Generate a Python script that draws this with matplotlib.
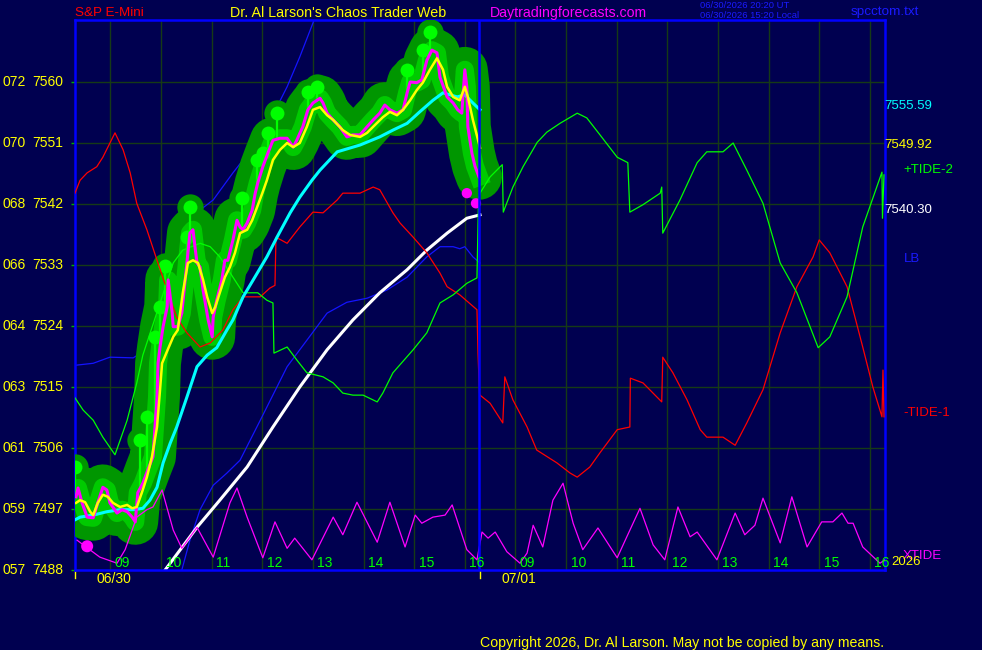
import matplotlib.pyplot as plt
import numpy as np

plt.rcParams["font.family"] = ["Liberation Sans", "DejaVu Sans"]

# second session (07/01) is drawn right after the first one, 8 hours later on the axis
DAY2 = 8.0

# 06/30 price (magenta) , times in hours
price_t = [8.32, 8.36, 8.44, 8.54, 8.66, 8.75, 8.85, 8.93, 8.99, 9.13, 9.23, 9.33, 9.43, 9.49,
           9.54, 9.64, 9.74, 9.84, 9.92, 9.94, 9.98, 10.04, 10.12, 10.14, 10.22, 10.24, 10.33,
           10.41, 10.51, 10.57, 10.63, 10.67, 10.71, 10.77, 10.83, 10.93, 11.01, 11.03, 11.10,
           11.20, 11.26, 11.32, 11.42, 11.50, 11.56, 11.62, 11.70, 11.80, 11.86, 11.91, 12.01,
           12.11, 12.21, 12.35, 12.49, 12.61, 12.68, 12.80, 12.90, 13.00, 13.14, 13.20, 13.28,
           13.40, 13.53, 13.67, 13.79, 13.93, 14.07, 14.19, 14.32, 14.42, 14.52, 14.66, 14.78,
           14.86, 14.92, 15.05, 15.15, 15.25, 15.35, 15.45, 15.51, 15.65, 15.77, 15.86, 15.94,
           16.00, 16.04, 16.06, 16.14, 16.20, 16.28]
price_v = [7498.8, 7500.1, 7497.9, 7495.8, 7495.7, 7497.9, 7500.2, 7499.8, 7497.9, 7496.4,
           7496.9, 7496.6, 7495.8, 7495.1, 7499.4, 7500.8, 7502.8, 7504.7, 7513.5, 7518.5,
           7520.9, 7523.9, 7526.8, 7530.8, 7525.9, 7523.9, 7523.9, 7525.9, 7533.3, 7537.7,
           7538.2, 7535.7, 7533.3, 7532.7, 7529.3, 7524.9, 7522.4, 7525.3, 7527.8, 7530.8,
           7533.7, 7533.7, 7536.7, 7539.6, 7538.6, 7538.2, 7539.2, 7541.1, 7543.6, 7545.1,
           7547.5, 7549.5, 7551.4, 7551.7, 7551.7, 7550.4, 7551.4, 7553.4, 7555.9, 7556.9,
           7557.6, 7556.9, 7555.4, 7554.4, 7553.4, 7551.9, 7552.2, 7552.2, 7553.4, 7554.4,
           7555.4, 7556.6, 7555.9, 7555.4, 7555.9, 7558.4, 7560.0, 7559.9, 7560.3, 7563.2,
           7564.7, 7564.3, 7560.7, 7557.8, 7556.9, 7555.9, 7555.4, 7561.8, 7559.3, 7553.4,
           7549.5, 7547.6, 7546.0]

# bar highs marked with light green dots
hi_t = [8.30, 9.58, 9.72, 9.88, 9.98, 10.08, 10.51, 10.57, 11.59, 11.89, 12.01, 12.11,
        12.29, 12.90, 13.08, 14.86, 15.17, 15.31]
hi_v = [7503.2, 7507.2, 7510.6, 7522.4, 7526.8, 7532.9, 7537.1, 7541.6, 7542.9, 7548.5,
        7549.5, 7552.5, 7555.4, 7558.5, 7559.3, 7561.8, 7564.7, 7567.4]

# fast average (yellow)
yel_t = [8.32, 8.40, 8.50, 8.60, 8.66, 8.75, 8.85, 8.95, 9.05, 9.19, 9.33, 9.43, 9.52, 9.62,
         9.72, 9.82, 9.92, 9.98, 10.02, 10.12, 10.24, 10.33, 10.43, 10.53, 10.63, 10.73,
         10.83, 10.91, 11.01, 11.07, 11.16, 11.26, 11.36, 11.46, 11.56, 11.70, 11.80, 11.90,
         12.00, 12.09, 12.21, 12.35, 12.49, 12.61, 12.74, 12.88, 13.00, 13.14, 13.28, 13.40,
         13.59, 13.73, 13.93, 14.07, 14.19, 14.38, 14.52, 14.66, 14.78, 14.92, 15.05, 15.17,
         15.31, 15.45, 15.57, 15.65, 15.77, 15.90, 16.00, 16.06, 16.16, 16.30]
yel_v = [7497.9, 7498.3, 7498.0, 7496.6, 7496.1, 7497.9, 7499.1, 7498.8, 7497.9, 7497.3,
         7497.6, 7497.1, 7497.3, 7499.4, 7501.7, 7504.7, 7509.1, 7514.6, 7518.5, 7520.3,
         7522.4, 7523.4, 7528.9, 7533.3, 7533.7, 7533.3, 7530.8, 7528.3, 7525.9, 7526.8,
         7528.9, 7531.2, 7532.7, 7534.8, 7537.7, 7538.2, 7539.6, 7541.6, 7543.6, 7545.5,
         7548.5, 7550.0, 7551.0, 7550.4, 7551.0, 7553.4, 7555.9, 7556.3, 7555.1, 7554.4,
         7552.9, 7552.2, 7551.9, 7552.5, 7553.4, 7554.8, 7555.6, 7555.1, 7555.9, 7557.3,
         7558.8, 7559.9, 7561.8, 7563.5, 7561.8, 7559.3, 7557.8, 7557.3, 7559.3, 7557.8,
         7554.4, 7550.3]

# slow average (cyan)
cy_t = [8.30, 8.40, 8.66, 8.93, 9.19, 9.45, 9.64, 9.78, 9.92, 10.04, 10.18, 10.31, 10.51,
        10.71, 10.91, 11.10, 11.30, 11.42, 11.62, 11.82, 12.09, 12.29, 12.55, 12.74, 12.98,
        13.14, 13.48, 13.93, 14.32, 14.58, 14.86, 15.11, 15.37, 15.57, 15.85, 16.00, 16.16,
        16.30]
cy_v = [7495.4, 7495.8, 7496.1, 7496.6, 7496.9, 7496.9, 7497.1, 7498.3, 7500.2, 7503.8,
        7506.7, 7509.1, 7513.5, 7518.0, 7519.7, 7520.8, 7523.4, 7524.9, 7528.3, 7530.8,
        7534.2, 7537.1, 7540.7, 7543.0, 7545.5, 7547.0, 7549.7, 7550.7, 7551.9, 7552.9,
        7553.9, 7555.6, 7557.3, 7558.4, 7557.8, 7558.1, 7556.9, 7555.9]

# long average (white)
wh_t = [10.08, 10.71, 11.16, 11.70, 12.21, 12.74, 13.28, 13.79, 14.32, 14.86, 15.25, 15.65,
        16.04, 16.30]
wh_v = [7488.0, 7494.3, 7498.3, 7503.2, 7509.1, 7515.0, 7520.5, 7524.9, 7528.9, 7532.3,
        7535.2, 7537.7, 7539.9, 7540.4]

# blue bands
ub_t = [8.30, 8.66, 8.99, 9.45, 9.64, 9.90, 10.18, 10.47, 10.77, 11.03, 11.42, 11.82, 12.09,
        12.49, 12.74, 13.00, 13.08]
ub_v = [7518.2, 7518.5, 7519.4, 7519.3, 7520.2, 7526.0, 7532.3, 7538.2, 7541.1, 7542.6,
        7546.6, 7550.4, 7553.4, 7559.3, 7563.7, 7568.7, 7570.5]
lb_t = [10.41, 10.57, 10.77, 11.03, 11.30, 11.56, 11.96, 12.49, 12.88, 13.28, 13.67, 14.07,
        14.46, 14.86, 15.25, 15.51, 15.77, 15.90, 16.00, 16.16, 16.30]
lb_v = [7488.0, 7492.4, 7496.9, 7500.5, 7502.3, 7504.2, 7510.1, 7518.0, 7521.9, 7525.9,
        7527.5, 7528.1, 7529.3, 7531.2, 7534.2, 7535.7, 7535.7, 7535.4, 7535.7, 7534.2,
        7533.3]

# -TIDE-1 (red), 06/30 then 07/01
r1_t = [8.30, 8.40, 8.54, 8.73, 8.85, 9.09, 9.25, 9.39, 9.52, 9.72, 9.92, 10.12, 10.31, 10.51,
        10.77, 10.97, 11.22, 11.42, 11.62, 11.96, 12.15, 12.25, 12.27, 12.49, 12.74, 13.00,
        13.20, 13.48, 13.59, 13.93, 14.19, 14.32, 14.58, 14.72, 14.98, 15.25, 15.51, 15.65,
        15.90, 16.24, 16.26, 16.29]
r1_v = [7543.6, 7545.5, 7546.6, 7547.5, 7548.9, 7552.5, 7550.0, 7546.6, 7542.1, 7538.2,
        7533.7, 7529.3, 7525.3, 7523.0, 7520.9, 7521.5, 7523.4, 7526.4, 7528.3, 7528.3,
        7529.6, 7530.0, 7537.1, 7536.2, 7538.6, 7540.8, 7540.7, 7542.6, 7543.6, 7543.6,
        7544.5, 7544.1, 7540.7, 7539.2, 7537.1, 7534.8, 7531.8, 7529.8, 7528.6, 7526.4,
        7520.0, 7514.1]
r2_t = [8.30, 8.50, 8.75, 8.79, 8.95, 9.23, 9.42, 9.82, 10.08, 10.22, 10.47, 10.67, 11.01,
        11.26, 11.27, 11.52, 11.89, 11.91, 12.11, 12.39, 12.65, 12.78, 13.10, 13.34, 13.57,
        13.89, 14.23, 14.56, 14.88, 15.00, 15.21, 15.55, 15.86, 16.06, 16.24, 16.26, 16.28]
r2_v = [7513.8, 7512.6, 7509.7, 7516.5, 7513.1, 7509.1, 7505.7, 7503.8, 7502.3, 7501.7,
        7503.2, 7505.3, 7508.7, 7509.1, 7516.3, 7515.6, 7512.8, 7519.4, 7517.1, 7513.1,
        7508.7, 7507.6, 7507.6, 7506.4, 7509.7, 7514.6, 7523.0, 7529.8, 7534.2, 7536.7,
        7534.8, 7529.8, 7520.9, 7515.0, 7510.6, 7517.5, 7510.6]

# +TIDE-2 (green)
g1_t = [8.30, 8.46, 8.66, 8.85, 9.09, 9.33, 9.52, 9.64, 9.98, 10.24, 10.43, 10.77, 10.97,
        11.16, 11.42, 11.62, 11.91, 12.09, 12.21, 12.23, 12.49, 12.68, 12.88, 13.20, 13.40,
        13.59, 13.79, 13.99, 14.27, 14.38, 14.58, 14.98, 15.25, 15.51, 15.77, 16.04, 16.24,
        16.27]
g1_v = [7513.4, 7511.6, 7510.1, 7507.6, 7505.0, 7510.1, 7515.6, 7519.7, 7527.4, 7533.3,
        7535.2, 7536.2, 7535.7, 7534.2, 7531.2, 7528.9, 7528.9, 7527.8, 7527.4, 7520.0,
        7520.9, 7519.0, 7517.1, 7516.5, 7515.6, 7514.1, 7513.8, 7513.8, 7512.8, 7514.1,
        7517.1, 7520.5, 7523.0, 7527.4, 7528.6, 7530.3, 7531.1, 7542.6]
g2_t = [8.30, 8.50, 8.74, 8.76, 8.95, 9.15, 9.43, 9.62, 9.88, 10.22, 10.41, 10.67, 11.01,
        11.22, 11.26, 11.52, 11.86, 11.89, 11.91, 12.25, 12.59, 12.78, 13.10, 13.30, 13.57,
        13.89, 14.23, 14.56, 14.98, 15.21, 15.55, 15.86, 16.24, 16.25, 16.28]
g2_v = [7543.6, 7546.0, 7547.8, 7540.8, 7544.5, 7547.5, 7551.1, 7552.6, 7553.9, 7555.4,
        7554.7, 7552.2, 7548.9, 7548.1, 7540.8, 7541.9, 7543.6, 7544.5, 7537.7, 7542.6,
        7548.1, 7549.7, 7549.7, 7551.0, 7547.0, 7542.1, 7533.3, 7528.9, 7520.8, 7522.4,
        7528.3, 7538.6, 7546.7, 7539.9, 7546.3]

# XTIDE (magenta, bottom)
x1_t = [8.34, 8.79, 9.13, 9.29, 9.52, 9.72, 9.84, 10.02, 10.24, 10.41, 10.71, 11.03, 11.36,
        11.50, 11.70, 12.01, 12.25, 12.49, 12.64, 12.98, 13.40, 13.59, 13.87, 14.27, 14.52,
        14.82, 15.02, 15.15, 15.37, 15.61, 15.75, 16.04, 16.24]
x1_v = [7492.4, 7489.9, 7489.0, 7491.0, 7495.8, 7496.9, 7497.3, 7499.8, 7493.9, 7491.2,
        7494.3, 7489.9, 7497.9, 7500.1, 7495.8, 7489.8, 7495.1, 7491.2, 7492.7, 7489.5,
        7495.8, 7493.2, 7498.0, 7492.1, 7498.0, 7491.4, 7496.1, 7494.9, 7495.8, 7496.1,
        7497.6, 7491.0, 7489.5]
x2_t = [8.34, 8.46, 8.60, 8.83, 9.09, 9.23, 9.35, 9.54, 9.74, 9.94, 10.14, 10.33, 10.63,
        11.01, 11.20, 11.46, 11.72, 11.95, 12.21, 12.45, 12.59, 12.98, 13.34, 13.53, 13.73,
        13.89, 14.23, 14.46, 14.76, 15.05, 15.27, 15.45, 15.57, 15.67, 15.86, 16.20, 16.30]
x2_v = [7493.6, 7492.7, 7493.6, 7490.7, 7489.0, 7490.5, 7494.6, 7491.4, 7498.3, 7500.8,
        7494.9, 7491.0, 7494.2, 7489.8, 7492.9, 7497.1, 7491.7, 7489.5, 7497.3, 7492.9,
        7493.6, 7489.5, 7496.4, 7493.2, 7494.6, 7498.6, 7492.0, 7498.8, 7491.4, 7495.1,
        7495.1, 7496.4, 7494.9, 7494.9, 7491.4, 7489.0, 7489.5]

# magenta dots
dot_t = [8.54, 16.04, 16.22]
dot_v = [7491.5, 7543.6, 7542.1]

levels = [7488, 7497, 7506, 7515, 7524, 7533, 7542, 7551, 7560]
codes = ["057", "059", "061", "063", "064", "066", "068", "070", "072"]
hours = [9, 10, 11, 12, 13, 14, 15, 16]

BG = "#000050"
GRID = "#163a16"
BLUE = "#0000ff"
DKGREEN = "#009600"
LTGREEN = "#00ff00"
NOW = 16.29

W, H = 982, 650


def fxy(x, y):
    # pixel position -> figure fraction
    return x / W, 1 - y / H


fig = plt.figure(figsize=(W / 100, H / 100), dpi=100, facecolor=BG)
ax = fig.add_axes([75 / W, 80 / H, 810 / W, 550 / H], facecolor=BG)
ax.set_xlim(8.3, 24.3)
ax.set_ylim(7488, 7488 + 550 * 9 / 61)

grid_x = hours + [h + DAY2 for h in hours]
ax.set_xticks(grid_x)
ax.set_yticks(levels)
ax.grid(True, color=GRID, lw=1.0)
ax.set_axisbelow(True)
ax.tick_params(labelbottom=False, labelleft=False, bottom=False, left=True,
               length=3, width=1, color="#00b000")
for s in ax.spines.values():
    s.set_color(BLUE)
    s.set_linewidth(1.8)

# bands
ax.plot(ub_t, ub_v, color="#1414ff", lw=0.9, zorder=2)
ax.plot(lb_t, lb_v, color="#1414ff", lw=0.9, zorder=2)
ax.plot(wh_t, wh_v, color="white", lw=2.2, zorder=2.5)

# price blobs
ax.plot(price_t, price_v, color=DKGREEN, lw=33, solid_joinstyle="round",
        solid_capstyle="round", zorder=3)
ax.scatter(hi_t, hi_v, s=360, c=DKGREEN, lw=0, zorder=3)
ax.plot(price_t, price_v, color=LTGREEN, lw=13, alpha=0.5, zorder=4,
        solid_joinstyle="round")
ax.vlines(hi_t, np.interp(hi_t, price_t, price_v), hi_v, color=LTGREEN, lw=1.6, zorder=4)
ax.scatter(hi_t, hi_v, s=100, c=LTGREEN, lw=0, zorder=4)

# tides
ax.plot(r1_t + [t + DAY2 for t in r2_t], r1_v + r2_v, color="#ff0000", lw=0.9, zorder=5)
ax.plot(g1_t + [t + DAY2 for t in g2_t], g1_v + g2_v, color=LTGREEN, lw=0.9, zorder=5)
ax.plot(x1_t + [t + DAY2 for t in x2_t], x1_v + x2_v, color="#ff00ff", lw=0.9, zorder=5)

ax.plot(cy_t, cy_v, color="#00ffff", lw=2.2, zorder=6)
ax.plot(price_t, price_v, color="#ff00ff", lw=2.2, zorder=7)
ax.plot(yel_t, yel_v, color="#ffff00", lw=1.8, zorder=8)
ax.scatter(dot_t, dot_v, s=[75, 55, 55], c="#ff00ff", lw=0, zorder=9)

ax.axvline(NOW, color=BLUE, lw=1.8, zorder=9)

# hour labels inside bottom of plot
for g in grid_x:
    ax.text(g + 0.09, 7489.0, f"{int(g - DAY2) if g > NOW else int(g):02d}", color=LTGREEN,
            fontsize=10, va="center", ha="left", zorder=10)

xt = ax.get_xaxis_transform()
ax.text(9.07, -0.016, "06/30", transform=xt, color="#ffff00", fontsize=10,
        ha="center", va="center")
ax.text(17.07, -0.016, "07/01", transform=xt, color="#ffff00", fontsize=10,
        ha="center", va="center")
for x0 in [8.3, 16.3]:
    ax.plot([x0, x0], [0, -0.014], transform=xt, color="#ffff00", lw=1, clip_on=False)

# left price labels
yt = ax.get_yaxis_transform()
for lv, cd in zip(levels, codes):
    ax.text(-0.090, lv, cd, transform=yt, color="#ffff00", fontsize=10, ha="left", va="center")
    ax.text(-0.0145, lv, str(lv), transform=yt, color="#ffff00", fontsize=10,
            ha="right", va="center")

# header
fig.text(*fxy(75, 13), "S&P E-Mini", color="#ff0000", fontsize=9.7, va="center")
fig.text(*fxy(230, 13), "Dr. Al Larson's Chaos Trader Web", color="#ffff00",
         fontsize=10.3, va="center")
fig.text(*fxy(490, 13), "Daytradingforecasts.com", color="#ff00ff", fontsize=10.2, va="center")
fig.text(*fxy(700, 5), "06/30/2026 20:20 UT", color="#1a1aff", fontsize=6.8, va="center")
fig.text(*fxy(700, 15), "06/30/2026 15:20 Local", color="#1a1aff", fontsize=6.8, va="center")
fig.text(*fxy(851, 12), "spcctom.txt", color="#1a1aff", fontsize=9.7, va="center")

# right side labels
fig.text(*fxy(884, 106), "7555.59", color="#00ffff", fontsize=9.5, va="center")
fig.text(*fxy(884, 145), "7549.92", color="#ffff00", fontsize=9.5, va="center")
fig.text(*fxy(903, 170), "+TIDE-2", color=LTGREEN, fontsize=9.5, va="center")
fig.text(*fxy(884, 210), "7540.30", color="white", fontsize=9.5, va="center")
fig.text(*fxy(904, 259), "LB", color="#1a1aff", fontsize=9.5, va="center")
fig.text(*fxy(903, 413), "-TIDE-1", color="#ff0000", fontsize=9.5, va="center")
fig.text(*fxy(903, 556), "XTIDE", color="#ff00ff", fontsize=9.5, va="center")
fig.text(*fxy(891, 562), "2026", color="#ffff00", fontsize=9.5, va="center")

fig.text(*fxy(480, 643), "Copyright 2026, Dr. Al Larson. May not be copied by any means.",
         color="#ffff00", fontsize=10.2, va="center")

fig.savefig("out.png", dpi=100, facecolor=BG)
